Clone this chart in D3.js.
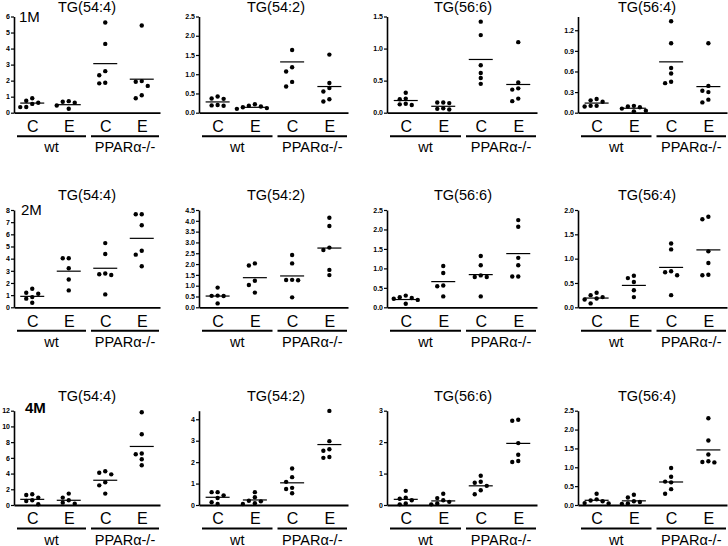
<!DOCTYPE html>
<html lang="en">
<head>
<meta charset="utf-8">
<title>TG species by age</title>
<script src="https://cdn.jsdelivr.net/npm/d3@7"></script>
<style>
  body { margin: 0; background: #fff; }
  text { font-family: "Liberation Sans", Arial, sans-serif; fill: #000; }
</style>
</head>
<body>
<script>

// ---- values ----
var ages = ["1M", "2M", "4M"];
var species = ["TG(54:4)", "TG(54:2)", "TG(56:6)", "TG(56:4)"];
var conditions = ["C", "E", "C", "E"];
var genotypes = ["wt", "PPARα-/-"];

var yMax = [[6, 2.5, 1.5, 1.4], [8, 4.5, 2.5, 2.0], [12, 4.4, 3, 2.5]];
var yTicks = [
  [[0, 1, 2, 3, 4, 5, 6], [0, 0.5, 1, 1.5, 2, 2.5], [0, 0.5, 1, 1.5], [0, 0.3, 0.6, 0.9, 1.2]],
  [[0, 1, 2, 3, 4, 5, 6, 7, 8], [0, 0.5, 1, 1.5, 2, 2.5, 3, 3.5, 4, 4.5], [0, 0.5, 1, 1.5, 2, 2.5], [0, 0.5, 1, 1.5, 2]],
  [[0, 2, 4, 6, 8, 10, 12], [0, 1, 2, 3, 4], [0, 1, 2, 3], [0, 0.5, 1, 1.5, 2, 2.5]]
];
var tickFormats = [["d", ".1f", ".1f", ".1f"], ["d", ".1f", ".1f", ".1f"], ["d", "d", "d", ".1f"]];

// each panel: wt C, wt E, PPAR C, PPAR E
var d1M_54_4 = [[0.9, 0.75, 0.62, 0.55, 0.36, 0.35], [0.72, 0.68, 0.62, 0.45, 0.25], [5.63, 4.29, 2.59, 2.34, 1.87, 1.83], [5.44, 1.97, 1.93, 1.67, 1.09, 0.9]];
var d1M_54_2 = [[0.42, 0.37, 0.36, 0.2, 0.19, 0.18], [0.22, 0.18, 0.16, 0.14, 0.12, 0.1], [1.63, 1.18, 1.07, 0.8, 0.68], [1.51, 0.77, 0.64, 0.55, 0.35, 0.29]];
var d1M_56_6 = [[0.31, 0.22, 0.21, 0.14, 0.13, 0.12], [0.16, 0.16, 0.15, 0.07, 0.06, 0.05], [1.42, 1.21, 0.74, 0.62, 0.54, 0.45], [1.1, 0.47, 0.38, 0.36, 0.22, 0.18]];
var d1M_56_4 = [[0.2, 0.18, 0.16, 0.1, 0.1, 0.09], [0.1, 0.09, 0.08, 0.06, 0.03, 0.02], [1.33, 1.01, 0.65, 0.57, 0.45, 0.43], [1.01, 0.39, 0.32, 0.3, 0.19, 0.15]];

var d2M_54_4 = [[1.52, 1.2, 1.12, 0.84, 0.71, 0.38], [4.03, 4.03, 3.21, 2.29, 1.39], [5.28, 4.38, 2.78, 2.72, 2.65, 1.06], [7.65, 7.65, 6.75, 4.65, 4.33, 3.37]];
var d2M_54_2 = [[0.91, 0.54, 0.53, 0.52, 0.18], [2.03, 1.93, 1.23, 1.03, 0.68], [2.42, 2.03, 1.27, 1.26, 1.25, 0.46], [4.14, 3.76, 2.76, 2.65, 1.73, 1.49]];
var d2M_56_6 = [[0.3, 0.26, 0.24, 0.22, 0.19, 0.09], [1.06, 0.88, 0.56, 0.54, 0.28], [1.32, 1.08, 0.82, 0.78, 0.78, 0.28], [2.24, 2.07, 1.27, 1.08, 0.79, 0.79]];
var d2M_56_4 = [[0.3, 0.25, 0.21, 0.18, 0.16, 0.08], [0.65, 0.6, 0.52, 0.35, 0.21], [1.31, 1.19, 0.74, 0.72, 0.66, 0.25], [1.86, 1.81, 1.15, 0.91, 0.67, 0.66]];

var d4M_54_4 = [[1.36, 1.28, 0.94, 0.6, 0.5, 0.1], [1.45, 0.94, 0.6, 0.3, 0.17], [4.3, 4.1, 3.9, 2.9, 2.5, 1.45], [11.8, 9.0, 6.55, 6.45, 5.83, 5.06]];
var d4M_54_2 = [[0.6, 0.6, 0.45, 0.33, 0.13, 0.05], [0.6, 0.36, 0.2, 0.17, 0.08, 0.05], [1.7, 1.3, 1.08, 0.8, 0.75, 0.55], [4.39, 2.98, 2.6, 2.53, 2.24, 2.2]];
var d4M_56_6 = [[0.45, 0.23, 0.2, 0.15, 0.05, 0.02], [0.36, 0.22, 0.15, 0.1, 0.05, 0.02], [0.93, 0.74, 0.71, 0.61, 0.47, 0.34], [2.71, 2.68, 1.97, 1.6, 1.4, 1.37]];
var d4M_56_4 = [[0.3, 0.15, 0.12, 0.1, 0.05, 0.04], [0.27, 0.2, 0.1, 0.08, 0.04, 0.03], [0.98, 0.75, 0.62, 0.6, 0.42, 0.3], [2.3, 1.71, 1.34, 1.16, 1.14, 1.13]];

// group means as drawn (horizontal bars)
var m1M = [[0.6, 0.5, 3.06, 2.09], [0.28, 0.14, 1.32, 0.68], [0.19, 0.1, 0.83, 0.44], [0.14, 0.065, 0.74, 0.38]];
var m2M = [[0.9, 2.97, 3.21, 5.67], [0.52, 1.37, 1.45, 2.74], [0.2, 0.66, 0.84, 1.38], [0.19, 0.45, 0.82, 1.18]];
var m4M = [[0.72, 0.6, 3.15, 7.45], [0.36, 0.235, 1.035, 2.82], [0.18, 0.13, 0.61, 1.96], [0.125, 0.11, 0.61, 1.46]];

var points = [
  [d1M_54_4, d1M_54_2, d1M_56_6, d1M_56_4],
  [d2M_54_4, d2M_54_2, d2M_56_6, d2M_56_4],
  [d4M_54_4, d4M_54_2, d4M_56_6, d4M_56_4]
];
var means = [m1M, m2M, m4M];

// ---- layout ----
var width = 728, height = 546;
var colLeft = [14, 199, 387, 578];
var colRight = [160, 348, 537, 727];
var titleX = [87, 276, 463, 647];
var rowZero = [112.7, 307.3, 505];
var rowTop = [16.5, 210, 410.7];
var rowTitle = [12, 199.5, 401];
var ageX = [19, 21, 25];
var ageY = [21.5, 215, 413];
var dotR = 2.2;
var dotStep = 6;
var meanHalf = 12;

var svg = d3.select("body")
  .append("svg")
  .attr("width", width)
  .attr("height", height);

// spread points that would overlap, like a column scatter
function swarm(vals, y, cx) {
  var placed = [];
  vals.slice().sort(function(a, b) { return b - a; }).forEach(function(v) {
    var py = y(v);
    var cands = [0];
    for (var k = 1; k < 6; k++) { cands.push(-k * dotStep, k * dotStep); }
    for (var i = 0; i < cands.length; i++) {
      var px = cx + cands[i];
      var ok = placed.every(function(p) { return Math.hypot(p.x - px, p.y - py) >= 2 * dotR + 0.6; });
      if (ok) { placed.push({x: px, y: py}); break; }
    }
  });
  return placed;
}

function drawPanel(r, c) {
  var g = svg.append("g");
  var x0 = colLeft[c], x1 = colRight[c];

  var x = d3.scalePoint()
    .domain([0, 1, 2, 3])
    .range([x0, x1])
    .padding(0.5);

  var y = d3.scaleLinear()
    .domain([0, yMax[r][c]])
    .range([rowZero[r], rowTop[r]]);

  // y axis
  var yAxis = g.append("g")
    .attr("transform", "translate(" + x0 + ",0)")
    .call(d3.axisLeft(y)
      .tickValues(yTicks[r][c])
      .tickFormat(d3.format(tickFormats[r][c]))
      .tickSize(3)
      .tickSizeOuter(0)
      .tickPadding(1));
  yAxis.select(".domain").attr("stroke-width", 1.6);
  yAxis.selectAll(".tick line").attr("stroke-width", 1.2);
  yAxis.selectAll(".tick text")
    .style("font-size", "7px")
    .style("font-weight", "bold")
    .style("font-family", "'Liberation Sans', Arial, sans-serif");

  // x axis with condition labels
  var xAxis = g.append("g")
    .attr("transform", "translate(0," + rowZero[r] + ")")
    .call(d3.axisBottom(x)
      .tickFormat(function(i) { return conditions[i]; })
      .tickSize(0)
      .tickSizeOuter(0)
      .tickPadding(8));
  xAxis.select(".domain").attr("stroke-width", 1.8);
  xAxis.selectAll(".tick text")
    .style("font-size", "16px")
    .style("font-family", "'Liberation Sans', Arial, sans-serif");

  // genotype underlines and labels
  var mid = (x0 + x1) / 2 + 1;
  var spans = [[x0 + 3, mid - 2], [mid + 3, x1 - 1]];
  g.selectAll("line.grp")
    .data(genotypes)
    .enter()
    .append("line")
    .attr("class", "grp")
    .attr("x1", function(d, i) { return spans[i][0]; })
    .attr("x2", function(d, i) { return spans[i][1]; })
    .attr("y1", rowZero[r] + 23.5)
    .attr("y2", rowZero[r] + 23.5)
    .attr("stroke", "#000")
    .attr("stroke-width", 2);
  g.selectAll("text.grp")
    .data(genotypes)
    .enter()
    .append("text")
    .attr("class", "grp")
    .attr("x", function(d, i) { return (spans[i][0] + spans[i][1]) / 2; })
    .attr("y", rowZero[r] + 39.5)
    .attr("text-anchor", "middle")
    .style("font-size", "14.5px")
    .text(function(d) { return d; });

  // title
  g.append("text")
    .attr("x", titleX[c])
    .attr("y", rowTitle[r])
    .attr("text-anchor", "middle")
    .style("font-size", "14.5px")
    .text(species[c]);

  // dots
  points[r][c].forEach(function(vals, k) {
    var pts = swarm(vals, y, x(k));
    g.selectAll(null)
      .data(pts)
      .enter()
      .append("circle")
      .attr("cx", function(d) { return d.x; })
      .attr("cy", function(d) { return d.y; })
      .attr("r", dotR)
      .attr("fill", "#000");
  });

  // mean bars
  g.selectAll("line.mean")
    .data(means[r][c])
    .enter()
    .append("line")
    .attr("class", "mean")
    .attr("x1", function(d, k) { return x(k) - meanHalf; })
    .attr("x2", function(d, k) { return x(k) + meanHalf; })
    .attr("y1", function(d) { return y(d); })
    .attr("y2", function(d) { return y(d); })
    .attr("stroke", "#000")
    .attr("stroke-width", 1.2);
}

for (var r = 0; r < 3; r++) {
  for (var c = 0; c < 4; c++) {
    drawPanel(r, c);
  }
  svg.append("text")
    .attr("x", ageX[r])
    .attr("y", ageY[r])
    .style("font-size", "15px")
    .style("font-weight", r == 2 ? "bold" : "normal")
    .text(ages[r]);
}
</script>
</body>
</html>
